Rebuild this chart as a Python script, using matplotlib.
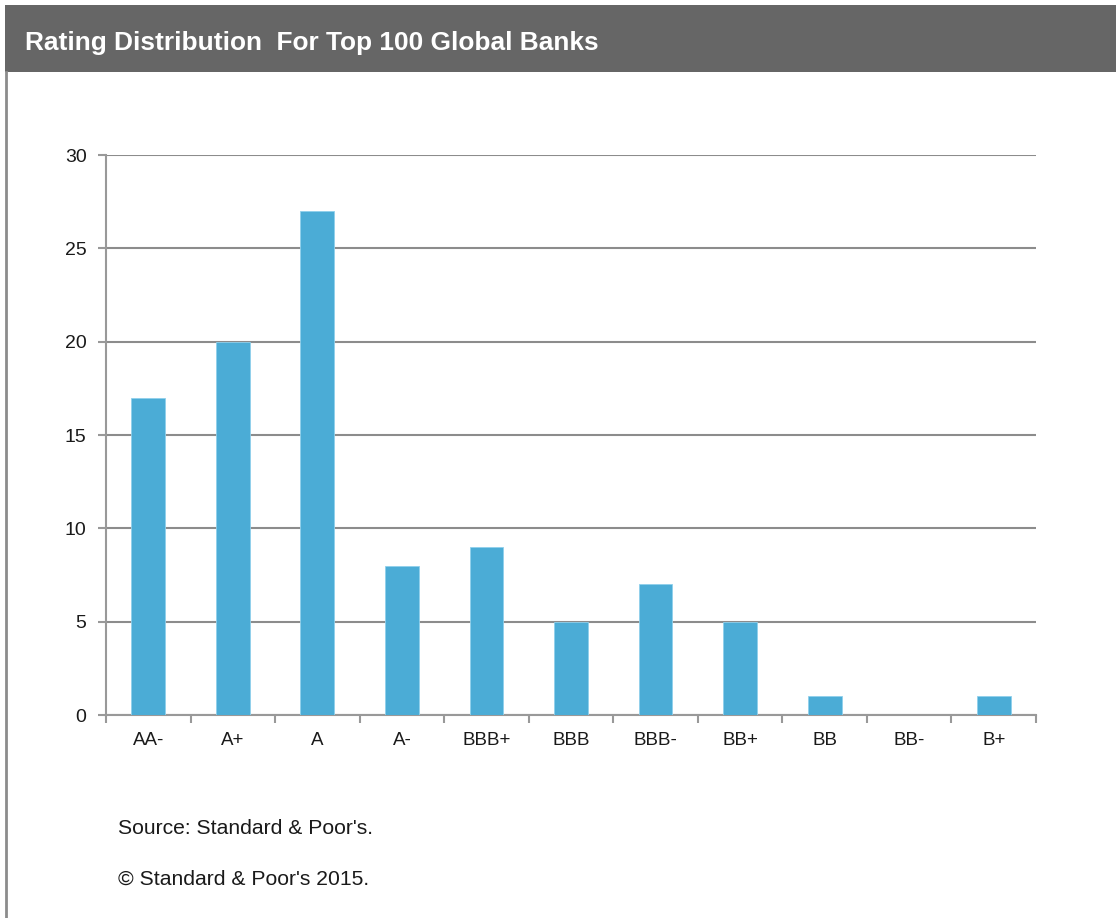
import matplotlib
matplotlib.use("Agg")
import matplotlib.pyplot as plt
from matplotlib.patches import Rectangle
from matplotlib.lines import Line2D

categories = ["AA-", "A+", "A", "A-", "BBB+", "BBB", "BBB-", "BB+", "BB", "BB-", "B+"]
counts = [17, 20, 27, 8, 9, 5, 7, 5, 1, 0, 1]
yticks = [0, 5, 10, 15, 20, 25, 30]
title = "Rating Distribution  For Top 100 Global Banks"
source = "Source: Standard & Poor's."
copyright_txt = "\u00a9 Standard & Poor's 2015."

plt.rcParams['font.family'] = ['Liberation Sans', 'DejaVu Sans']

W, H = 1116, 918
fig = plt.figure(figsize=(W / 100, H / 100), dpi=100)
fig.patch.set_facecolor("white")

# header band
fig.patches.append(Rectangle((5 / W, 1 - 72 / H), 1 - 5 / W, 67 / H, transform=fig.transFigure,
                             facecolor="#666666", edgecolor="none", zorder=0))
fig.lines.append(Line2D([6 / W, 6 / W], [0, 1 - 72 / H], transform=fig.transFigure,
                        color="#8c8c8c", lw=2.0))
fig.text(25 / W, 1 - 43 / H, title, color="white", fontsize=18.9, fontweight="bold",
         va="center", ha="left")

ax = fig.add_axes([106 / W, 1 - 715 / H, 930 / W, 560 / H])
x = list(range(len(categories)))
ax.bar(x, counts, width=0.4, color="#4BACD6", edgecolor="#8fd0ec", linewidth=0.6, zorder=3)
ax.set_xlim(-0.5, len(categories) - 0.5)
ax.set_ylim(0, 30)
ax.set_yticks(yticks)
ax.set_yticklabels([str(v) for v in yticks], fontsize=14, color="#1a1a1a")
ax.set_xticks([i + 0.5 for i in range(-1, len(categories))])
ax.set_xticklabels([])
ax.set_xticks(x, minor=True)
ax.set_xticklabels(categories, minor=True, fontsize=13.5, color="#1a1a1a")
ax.tick_params(axis="x", which="minor", length=0, pad=12)
ax.tick_params(axis="x", which="major", length=6, width=1.5, color="#999999")
ax.tick_params(axis="y", length=6, width=1.5, color="#999999", pad=8)
ax.yaxis.grid(True, color="#8c8c8c", lw=1.5, zorder=0)
ax.set_axisbelow(True)
for s in ["top", "right"]:
    ax.spines[s].set_visible(False)
for s in ["left", "bottom"]:
    ax.spines[s].set_color("#999999")
    ax.spines[s].set_linewidth(1.5)

fig.text(118 / W, 1 - 828 / H, source, fontsize=15.2, color="#1a1a1a", va="center", ha="left")
fig.text(118 / W, 1 - 879 / H, copyright_txt, fontsize=15.2, color="#1a1a1a", va="center", ha="left")

fig.savefig("out.png", dpi=100, facecolor="white")
